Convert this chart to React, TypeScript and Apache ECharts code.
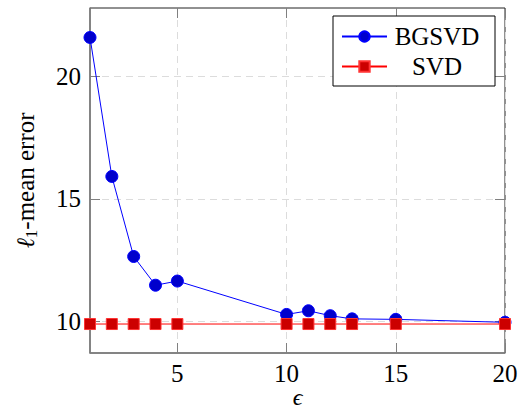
import React, { useEffect, useRef } from "react";
import * as echarts from "echarts";

// Privacy parameter values on the x axis
const epsilons = [1, 2, 3, 4, 5, 10, 11, 12, 13, 15, 20];
// l1-mean error of each method
const bgsvdError = [21.57, 15.91, 12.65, 11.48, 11.65, 10.29, 10.44, 10.24, 10.11, 10.09, 9.97];
const svdError = [9.9, 9.9, 9.9, 9.9, 9.9, 9.9, 9.9, 9.9, 9.9, 9.9, 9.9];
const seriesNames = ["BGSVD", "SVD"];
const xTicks = [5, 10, 15, 20];
const yTicks = [10, 15, 20];

const FONT = "Liberation Serif";

export default function App() {
  const ref = useRef<HTMLDivElement>(null);

  useEffect(() => {
    if (!ref.current) return;
    const chart = echarts.init(ref.current, undefined, { renderer: "svg" });

    const gridLine = { show: true, lineStyle: { color: "#dcdcdc", type: [7, 5] as any, width: 1 } };
    const tick = (vals: number[]) => ({
      show: true,
      inside: true,
      length: 10,
      customValues: vals,
      lineStyle: { color: "#808080", width: 1 },
    });
    const tickLabel = (vals: number[], margin: number) => ({
      customValues: vals,
      fontSize: 25,
      fontFamily: FONT,
      color: "#000",
      margin,
    });

    chart.setOption({
      animation: false,
      backgroundColor: "#ffffff",
      textStyle: { fontFamily: FONT },
      grid: {
        left: 90,
        right: 17,
        top: 8,
        bottom: 57,
        outerBoundsMode: "none",
        containLabel: false,
        show: true,
        borderColor: "#222222",
        borderWidth: 1,
      },
      legend: {
        orient: "vertical",
        left: 333,
        top: 16,
        padding: [8, 13, 7, 8],
        itemGap: 5,
        itemWidth: 45,
        itemHeight: 13,
        backgroundColor: "#ffffff",
        borderColor: "#000000",
        borderWidth: 1,
        data: seriesNames,
        formatter: (name: string) => `{t|${name}}`,
        textStyle: {
          rich: {
            t: {
              width: 90,
              align: "center",
              fontSize: 25,
              lineHeight: 28,
              fontFamily: FONT,
              color: "#000000",
            },
          },
        },
      },
      xAxis: [
        {
          type: "value",
          position: "bottom",
          min: 1,
          max: 20,
          name: "ϵ",
          nameLocation: "middle",
          nameGap: 32,
          nameMoveOverlap: false,
          nameTextStyle: {
            fontSize: 24,
            fontFamily: FONT,
            color: "#000",
            fontStyle: "italic",
          },
          axisLine: { show: true, lineStyle: { color: "#808080", width: 1.5 } },
          axisTick: tick(xTicks),
          axisLabel: tickLabel(xTicks, 8),
          splitLine: gridLine,
        },
        {
          type: "value",
          position: "top",
          min: 1,
          max: 20,
          axisLine: { show: false },
          axisTick: tick(xTicks),
          axisLabel: { show: false },
          splitLine: { show: false },
        },
      ],
      yAxis: [
        {
          type: "value",
          position: "left",
          min: 8.72,
          max: 22.77,
          name: "{l|ℓ}{s|1}{m|-mean error}",
          nameLocation: "middle",
          nameGap: 50,
          nameMoveOverlap: false,
          nameTextStyle: {
            rich: {
              l: { fontSize: 25, fontFamily: FONT, color: "#000", fontStyle: "italic", lineHeight: 30 },
              s: { fontSize: 17, fontFamily: FONT, color: "#000", verticalAlign: "bottom", lineHeight: 30 },
              m: { fontSize: 25, fontFamily: FONT, color: "#000", lineHeight: 30 },
            },
          },
          axisLine: { show: true, lineStyle: { color: "#808080", width: 1.5 } },
          axisTick: tick(yTicks),
          axisLabel: tickLabel(yTicks, 9),
          splitLine: gridLine,
        },
        {
          type: "value",
          position: "right",
          min: 8.72,
          max: 22.77,
          axisLine: { show: false },
          axisTick: tick(yTicks),
          axisLabel: { show: false },
          splitLine: { show: false },
        },
      ],
      series: [
        {
          name: seriesNames[0],
          type: "line",
          data: epsilons.map((e, i) => [e, bgsvdError[i]]),
          symbol: "circle",
          symbolSize: 12,
          lineStyle: { color: "#0000ff", width: 1 },
          itemStyle: { color: "#0000cc", borderColor: "#0000ff", borderWidth: 1 },
          z: 3,
        },
        {
          name: seriesNames[1],
          type: "line",
          data: epsilons.map((e, i) => [e, svdError[i]]),
          symbol: "rect",
          symbolSize: 11,
          lineStyle: { color: "#ff0000", width: 1 },
          itemStyle: { color: "#cc0000", borderColor: "#ff3333", borderWidth: 1 },
          z: 4,
        },
      ],
    });

    return () => chart.dispose();
  }, []);

  return (
    <div
      ref={ref}
      style={{ position: "fixed", left: 0, top: 0, width: 522, height: 410, background: "#fff" }}
    />
  );
}
